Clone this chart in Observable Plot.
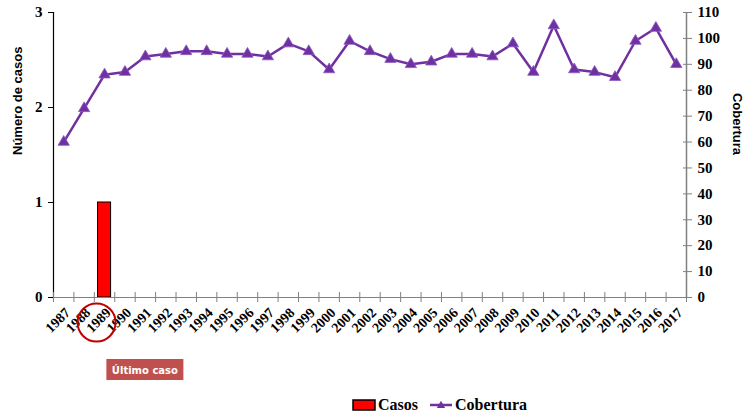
<!DOCTYPE html>
<html><head><meta charset="utf-8">
<script src="https://cdn.jsdelivr.net/npm/d3@7"></script>
<script src="https://cdn.jsdelivr.net/npm/@observablehq/plot@0.6"></script>
<style>
body{margin:0;background:#fff;}
#legend{height:32px;position:relative;font-family:"Liberation Serif",serif;font-weight:bold;font-size:16px;color:#000;}
#legend .item{position:absolute;top:11px;display:flex;align-items:center;height:18px;}
</style></head><body><div id="chart"></div><div id="legend"></div>
<script>
const years = [1987,1988,1989,1990,1991,1992,1993,1994,1995,1996,1997,1998,1999,2000,2001,2002,2003,2004,2005,2006,2007,2008,2009,2010,2011,2012,2013,2014,2015,2016,2017];
const casos = [0,0,1,0,0,0,0,0,0,0,0,0,0,0,0,0,0,0,0,0,0,0,0,0,0,0,0,0,0,0,0];
const cobertura = [60,73,86,87,93,94,95,95,94,94,93,98,95,88,99,95,92,90,91,94,94,93,98,87,105,88,87,85,99,104,90];
const casosTicks = [0,1,2,3];
const cobTicks = [0,10,20,30,40,50,60,70,80,90,100,110];
const casosMax = 3, cobMax = 110;
const ultimoAno = 1989;

const toLeft = v => v * casosMax / cobMax;
const data = years.map((year, i) => ({year, casos: casos[i], cob: cobertura[i]}));
const bounds = [years[0] - 0.5, ...years.map(y => y + 0.5)];

const purple = "#7030a0";
const serif = "Liberation Serif, Times New Roman, serif";

const plot = Plot.plot({
  width: 746, height: 385,
  marginLeft: 53, marginRight: 60, marginTop: 12, marginBottom: 88,
  style: {fontFamily: serif, fontWeight: "bold", fontSize: "14px", color: "#000", background: "#fff", overflow: "visible"},
  x: {type: "linear", domain: [bounds[0], bounds[bounds.length - 1]], label: null},
  y: {domain: [0, casosMax], label: null},
  marks: [
    Plot.rectY(data, {filter: d => d.casos > 0, x1: d => d.year - 0.32, x2: d => d.year + 0.32, y: "casos", fill: "#ff0000", stroke: "#000", strokeWidth: 1}),
    Plot.ruleY([0], {stroke: "#808080", strokeWidth: 1.2}),
    Plot.ruleX([bounds[0]], {stroke: "#000", strokeWidth: 1.2}),
    Plot.ruleX([bounds[bounds.length - 1]], {stroke: "#808080", strokeWidth: 1.5}),
    Plot.line(data, {x: "year", y: d => toLeft(d.cob), stroke: purple, strokeWidth: 2.5}),
    Plot.dot(data, {x: "year", y: d => toLeft(d.cob), symbol: "triangle", r: 4.2, fill: purple, stroke: "#8a5cc4", strokeWidth: 0.8}),
    Plot.axisX({ticks: bounds, tickSize: 10, dy: -5, tickFormat: () => "", stroke: "#808080", label: null}),
    Plot.axisX({ticks: years, tickSize: 0, tickPadding: 7, dx: 4, dy: 6, tickRotate: -45, tickFormat: d => String(d), fontSize: 14, fontWeight: "bold", fontFamily: serif, label: null}),
    Plot.axisY({ticks: casosTicks, tickSize: 5, tickPadding: 6, anchor: "left", tickFormat: d => String(d), stroke: "#000", fontSize: 15, label: null}),
    Plot.axisY({ticks: cobTicks.map(toLeft), tickSize: 9, dx: -4, tickPadding: 6, anchor: "right", tickFormat: d => String(Math.round(d * cobMax / casosMax)), stroke: "#808080", fontSize: 15, label: null}),
    Plot.text(["Número de casos"], {frameAnchor: "left", dx: -36, rotate: -90, fontFamily: "Liberation Sans, Arial, sans-serif", fontWeight: "bold", fontSize: 13, fill: "#000"}),
    Plot.text(["Cobertura"], {frameAnchor: "right", dx: 51, rotate: 90, fontFamily: "Liberation Sans, Arial, sans-serif", fontWeight: "bold", fontSize: 13, fill: "#000"}),
    Plot.dot([{year: ultimoAno, v: 0}], {x: "year", y: "v", dx: -8, dy: 25, r: 19, stroke: "#c00000", strokeWidth: 2, fill: "none"})
  ]
});
document.getElementById("chart").appendChild(plot);

// "Último caso" label box, positioned via the plot's x scale
const xs = plot.scale("x");
const cx = xs.apply(ultimoAno + 2);
const svg = d3.select(plot);
const g = svg.append("g");
g.append("rect").attr("x", cx - 38.5).attr("y", 359).attr("width", 77).attr("height", 21).attr("fill", "#c0504d");
g.append("text").attr("x", cx).attr("y", 370).attr("dy", "0.35em").attr("text-anchor", "middle")
  .attr("fill", "#fff").attr("font-family", "DejaVu Sans, Verdana, sans-serif").attr("font-weight", "bold").attr("font-size", 10)
  .text("Último caso");

// Legend
const legend = d3.select("#legend");
const it1 = legend.append("div").attr("class", "item").style("left", "352px");
it1.append("svg").attr("width", 25).attr("height", 12).style("margin-right", "1px")
  .append("rect").attr("x", 1).attr("y", 1).attr("width", 22).attr("height", 10).attr("fill", "#ff0000").attr("stroke", "#000").attr("stroke-width", 1.5);
it1.append("span").text("Casos");
const it2 = legend.append("div").attr("class", "item").style("left", "429px");
const s2 = it2.append("svg").attr("width", 25).attr("height", 12).style("margin-right", "1px");
s2.append("line").attr("x1", 1).attr("x2", 23).attr("y1", 6).attr("y2", 6).attr("stroke", purple).attr("stroke-width", 2.5);
s2.append("path").attr("d", d3.symbol(d3.symbolTriangle, 30)()).attr("transform", "translate(12,6.5)").attr("fill", purple);
it2.append("span").text("Cobertura");
</script>
</body></html>
